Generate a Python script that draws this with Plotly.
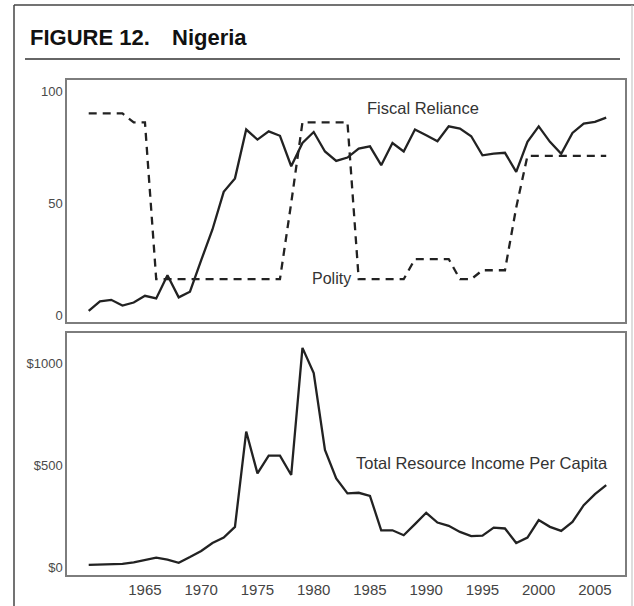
import plotly.graph_objects as go

# =============================================================================
# Data
# =============================================================================
years = list(range(1960, 2007))

fiscal_reliance = [
    1.9, 6.1, 6.8, 4.2, 5.6, 8.6, 7.4, 17.8, 7.9, 10.4,
    24.5, 38.2, 55.0, 61.0, 82.8, 78.3, 82.0, 80.0, 66.4, 76.8,
    81.7, 73.0, 68.8, 70.3, 74.3, 75.3, 66.9, 76.8, 73.0, 82.8,
    80.2, 77.6, 84.2, 83.2, 79.8, 71.3, 72.0, 72.4, 63.9, 77.3,
    84.2, 77.3, 72.0, 81.3, 85.4, 86.2, 88.1,
]

polity = [
    90, 90, 90, 90, 86, 86, 16, 16, 16, 16,
    16, 16, 16, 16, 16, 16, 16, 16, 50, 86,
    86, 86, 86, 86, 16, 16, 16, 16, 16, 25,
    25, 25, 25, 16, 16, 20, 20, 20, 48, 71,
    71, 71, 71, 71, 71, 71, 71,
]

resource_income = [
    11, 13, 15, 16, 23, 36, 46, 36, 21, 49,
    79, 118, 144, 197, 664, 459, 546, 546, 451, 1074,
    951, 574, 434, 361, 364, 349, 180, 180, 156, 210,
    266, 218, 202, 172, 152, 154, 193, 189, 118, 144,
    230, 197, 177, 221, 303, 357, 402,
]

x_ticks = [1965, 1970, 1975, 1980, 1985, 1990, 1995, 2000, 2005]
top_ticks = [0, 50, 100]
top_labels = ["0", "50", "100"]
bottom_ticks = [0, 500, 1000]
bottom_labels = ["$0", "$500", "$1000"]

# =============================================================================
# Figure
# =============================================================================
W, H = 634, 606
FONT = "Arial, Liberation Sans, Helvetica, sans-serif"
INK = "#222222"
BOX = "#7d7d7d"

fig = go.Figure()

fig.add_trace(go.Scatter(
    x=years, y=fiscal_reliance, mode="lines",
    line=dict(color=INK, width=2.3), xaxis="x2", yaxis="y2",
    name="Fiscal Reliance",
))
fig.add_trace(go.Scatter(
    x=years, y=polity, mode="lines",
    line=dict(color=INK, width=2.3, dash="8px,6px"), xaxis="x2", yaxis="y2",
    name="Polity",
))
fig.add_trace(go.Scatter(
    x=years, y=resource_income, mode="lines",
    line=dict(color=INK, width=2.3), xaxis="x", yaxis="y",
    name="Total Resource Income Per Capita",
))

x_dom = [67 / W, 625 / W]
x_range = [1958.07, 2007.67]
common_axis = dict(showgrid=False, zeroline=False, showline=True, mirror=True,
                   linecolor=BOX, linewidth=1.5, ticks="")

fig.update_layout(
    width=W, height=H,
    margin=dict(l=0, r=0, t=0, b=0),
    paper_bgcolor="white", plot_bgcolor="white",
    showlegend=False,
    font=dict(family=FONT, color="#333333"),
    xaxis=dict(domain=x_dom, range=x_range, anchor="y", tickvals=x_ticks,
               tickfont=dict(size=15, color="#444444"), **common_axis),
    xaxis2=dict(domain=x_dom, range=x_range, anchor="y2", showticklabels=False,
                **common_axis),
    yaxis=dict(domain=[1 - 575 / H, 1 - 333 / H], range=[-39, 1147], anchor="x",
               tickvals=bottom_ticks, ticktext=bottom_labels,
               tickfont=dict(size=13, color="#4a4a4a"), **common_axis),
    yaxis2=dict(domain=[1 - 322 / H, 1 - 80 / H], range=[-3.1, 104.9], anchor="x2",
                tickvals=top_ticks, ticktext=top_labels,
                tickfont=dict(size=13, color="#4a4a4a"), **common_axis),
)

# series labels
fig.add_annotation(x=1989.7, y=92.4, xref="x2", yref="y2", text="Fiscal Reliance",
                   showarrow=False, font=dict(size=16.5, color="#333333"))
fig.add_annotation(x=1981.6, y=16.1, xref="x2", yref="y2", text="Polity",
                   showarrow=False, font=dict(size=16, color="#333333"))
fig.add_annotation(x=1995.0, y=510, xref="x", yref="y",
                   text="Total Resource Income Per Capita",
                   showarrow=False, font=dict(size=16.5, color="#333333"))

# title
fig.add_annotation(x=28 / W, y=1 - 37 / H, xref="paper", yref="paper",
                   text="<b>FIGURE 12.</b>", showarrow=False,
                   xanchor="left", yanchor="middle",
                   font=dict(size=22, color="#111111"))
fig.add_annotation(x=170 / W, y=1 - 37 / H, xref="paper", yref="paper",
                   text="<b>Nigeria</b>", showarrow=False,
                   xanchor="left", yanchor="middle",
                   font=dict(size=22, color="#111111"))

# page frame and rule under the title
frame = dict(color="#444444", width=1.5)
fig.add_shape(type="line", xref="paper", yref="paper",
              x0=14 / W, x1=14 / W, y0=0, y1=1 - 5 / H, line=frame)
fig.add_shape(type="line", xref="paper", yref="paper",
              x0=14 / W, x1=1, y0=1 - 5 / H, y1=1 - 5 / H, line=frame)
fig.add_shape(type="line", xref="paper", yref="paper",
              x0=632 / W, x1=632 / W, y0=0, y1=1 - 5 / H,
              line=dict(color="#bbbbbb", width=1))
fig.add_shape(type="line", xref="paper", yref="paper",
              x0=25 / W, x1=620 / W, y0=1 - 59 / H, y1=1 - 59 / H,
              line=dict(color="#333333", width=1.5))

# drop the browser's default body margin so the figure sits at the page corner
fig.write_html("out.html", config={"displayModeBar": False},
               post_script="document.body.style.margin='0';")
